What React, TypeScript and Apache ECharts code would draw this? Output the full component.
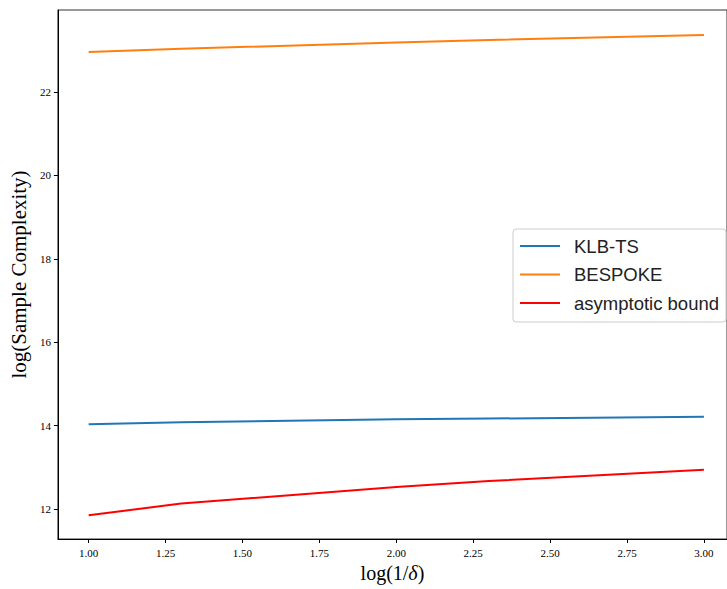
import React, { useEffect, useRef } from "react";
import * as echarts from "echarts";

const xValues = [1.0, 1.301, 2.0, 2.301, 3.0];
const klbTs = [14.03, 14.08, 14.15, 14.17, 14.21];
const bespoke = [22.96, 23.04, 23.19, 23.25, 23.37];
const asymptotic = [11.85, 12.13, 12.53, 12.67, 12.94];
const xTicks = [1.0, 1.25, 1.5, 1.75, 2.0, 2.25, 2.5, 2.75, 3.0];
const yTicks = [12, 14, 16, 18, 20, 22];

const serif = "'Liberation Serif', 'DejaVu Serif', serif";
const sans = "'Liberation Sans', 'DejaVu Sans', sans-serif";

export default function App() {
  const ref = useRef<HTMLDivElement>(null);
  useEffect(() => {
    if (!ref.current) return;
    const chart = echarts.init(ref.current, undefined, { renderer: "svg" });
    const pair = (ys: number[]) => xValues.map((x, i) => [x, ys[i]]);
    chart.setOption({
      animation: false,
      backgroundColor: "#fff",
      grid: {
        left: 57,
        top: 10,
        right: 0,
        bottom: 50,
        show: true,
        borderColor: "#333",
        borderWidth: 1,
        backgroundColor: "transparent",
      },
      legend: {
        orient: "vertical",
        left: 513,
        top: 229,
        padding: [6, 7, 8, 7],
        itemGap: 6.5,
        itemWidth: 40,
        itemHeight: 2,
        icon: "rect",
        borderColor: "#ccc",
        borderWidth: 1,
        borderRadius: 3,
        backgroundColor: "#fff",
        textStyle: {
          fontFamily: sans,
          fontSize: 18.5,
          color: "#222",
          lineHeight: 22,
          padding: [0, 0, 0, 9],
        },
        data: ["KLB-TS", "BESPOKE", "asymptotic bound"],
      },
      xAxis: {
        type: "value",
        min: 0.9,
        max: 3.075,
        name: "log(1/{i|δ})",
        nameLocation: "middle",
        nameGap: 24,
        nameTextStyle: {
          fontFamily: serif,
          fontSize: 20,
          color: "#000",
          rich: { i: { fontFamily: serif, fontStyle: "italic", fontSize: 20 } },
        },
        splitLine: { show: false },
        axisLine: { lineStyle: { color: "#000", width: 1 } },
        axisTick: {
          show: true,
          length: 4,
          lineStyle: { color: "#000" },
          customValues: xTicks,
        },
        axisLabel: {
          fontFamily: serif,
          fontSize: 11,
          color: "#000",
          margin: 8,
          customValues: xTicks,
          formatter: (v: number) => v.toFixed(2),
        },
      },
      yAxis: {
        type: "value",
        min: 11.28,
        max: 23.97,
        name: "log(Sample Complexity)",
        nameLocation: "middle",
        nameGap: 27,
        nameTextStyle: { fontFamily: serif, fontSize: 21, color: "#000" },
        splitLine: { show: false },
        axisLine: { show: true, lineStyle: { color: "#000", width: 1 } },
        axisTick: {
          show: true,
          length: 4,
          lineStyle: { color: "#000" },
          customValues: yTicks,
        },
        axisLabel: {
          fontFamily: serif,
          fontSize: 11,
          color: "#000",
          margin: 7,
          customValues: yTicks,
        },
      },
      series: [
        {
          name: "KLB-TS",
          type: "line",
          data: pair(klbTs),
          symbol: "none",
          lineStyle: { color: "#1f77b4", width: 2 },
          itemStyle: { color: "#1f77b4" },
        },
        {
          name: "BESPOKE",
          type: "line",
          data: pair(bespoke),
          symbol: "none",
          lineStyle: { color: "#ff7f0e", width: 2 },
          itemStyle: { color: "#ff7f0e" },
        },
        {
          name: "asymptotic bound",
          type: "line",
          data: pair(asymptotic),
          symbol: "none",
          lineStyle: { color: "#ff0000", width: 2 },
          itemStyle: { color: "#ff0000" },
        },
      ],
    });
    return () => chart.dispose();
  }, []);
  return <div ref={ref} style={{ width: 727, height: 589, position: "fixed", left: 0, top: 0 }} />;
}
